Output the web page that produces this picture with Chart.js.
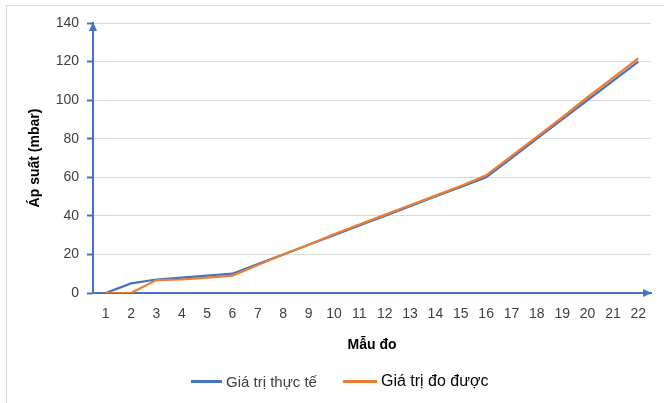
<!DOCTYPE html>
<html>
<head>
<meta charset="utf-8">
<script src="https://cdn.jsdelivr.net/npm/chart.js@4/dist/chart.umd.min.js"></script>
<style>
  html, body { margin: 0; padding: 0; background: #ffffff; }
  #wrap { position: relative; width: 664px; height: 403px; overflow: hidden; }
  #frame { position: absolute; left: 6px; top: 5px; width: 700px; height: 500px;
           border-left: 1px solid #d9d9d9; border-top: 1px solid #d9d9d9; pointer-events: none; }
  #legend { position: absolute; left: 0; top: 369px; width: 664px; height: 24px;
            font-family: "Liberation Sans", Arial, sans-serif; }
  .item { position: absolute; top: 0; height: 24px; display: flex; align-items: center; white-space: nowrap; }
  .swatch { display: inline-block; height: 3px; margin-right: 4px; }
</style>
</head>
<body>
<div id="wrap">
  <canvas id="c" width="664" height="403"></canvas>
  <div id="frame"></div>
  <div id="legend"></div>
</div>
<script>
const categories = ['1','2','3','4','5','6','7','8','9','10','11','12','13','14','15','16','17','18','19','20','21','22'];
const actualValues = [0, 5, 7, 8, 9, 10, 15, 20, 25, 30, 35, 40, 45, 50, 55, 60, 70, 80, 90, 100, 110, 120];
const measuredValues = [0, 0, 6.7, 7, 8, 9, 14.5, 20, 25, 30.5, 35.5, 40.5, 45.5, 50.5, 55.5, 61, 71, 81, 91, 101.5, 111.5, 121.7];
const seriesNames = ['Giá trị thực tế', 'Giá trị đo được'];
const yTicks = [0, 20, 40, 60, 80, 100, 120, 140];
const xTitle = 'Mẫu đo';
const yTitle = 'Áp suất (mbar)';

const BLUE = '#4472C4';
const ORANGE = '#ED7D31';

const arrowPlugin = {
  id: 'axisArrows',
  afterDraw(chart) {
    const ctx = chart.ctx;
    const a = chart.chartArea;
    ctx.save();
    ctx.fillStyle = BLUE;
    ctx.beginPath();
    ctx.moveTo(a.left, a.top - 1);
    ctx.lineTo(a.left - 4, a.top + 8);
    ctx.lineTo(a.left + 4, a.top + 8);
    ctx.closePath();
    ctx.fill();
    ctx.beginPath();
    ctx.moveTo(a.right + 1, a.bottom);
    ctx.lineTo(a.right - 8, a.bottom - 4);
    ctx.lineTo(a.right - 8, a.bottom + 4);
    ctx.closePath();
    ctx.fill();
    ctx.restore();
  }
};

new Chart(document.getElementById('c'), {
  type: 'line',
  data: {
    labels: categories,
    datasets: [
      { label: seriesNames[0], data: actualValues, borderColor: BLUE, backgroundColor: BLUE,
        borderWidth: 2.25, pointRadius: 0, tension: 0, order: 1 },
      { label: seriesNames[1], data: measuredValues, borderColor: ORANGE, backgroundColor: ORANGE,
        borderWidth: 2.25, pointRadius: 0, tension: 0, order: 0 }
    ]
  },
  options: {
    responsive: false,
    animation: false,
    devicePixelRatio: 1,
    layout: { padding: { left: 0, right: 13, top: 23, bottom: 0 } },
    plugins: { legend: { display: false }, tooltip: { enabled: false } },
    scales: {
      x: {
        type: 'category',
        offset: true,
        grid: { display: false, drawTicks: false },
        border: { display: true, color: BLUE, width: 2 },
        ticks: { color: '#404040', padding: 13, maxRotation: 0, autoSkip: false,
                 font: { family: '"Liberation Sans", Arial, sans-serif', size: 14 } },
        title: { display: true, text: xTitle, color: '#000000', padding: { top: 0, bottom: 49 },
                 font: { family: '"Liberation Sans", Arial, sans-serif', size: 14, weight: 'bold' } },
        afterFit(scale) { scale.height = 110; }
      },
      y: {
        min: 0, max: 140,
        afterBuildTicks(scale) { scale.ticks = yTicks.map(v => ({ value: v })); },
        grid: { color: '#d9d9d9', lineWidth: 1, drawTicks: true, tickLength: 6, tickColor: BLUE, tickWidth: 2 },
        border: { display: true, color: BLUE, width: 2 },
        ticks: { color: '#404040', padding: 8,
                 font: { family: '"Liberation Sans", Arial, sans-serif', size: 14 } },
        title: { display: true, text: yTitle, color: '#000000', padding: { top: 27, bottom: 0 },
                 font: { family: '"Liberation Sans", Arial, sans-serif', size: 14, weight: 'bold' } },
        afterFit(scale) { scale.width = 93; }
      }
    }
  },
  plugins: [arrowPlugin]
});

const legend = document.getElementById('legend');
const legendSpec = [
  { name: seriesNames[0], color: BLUE, left: 191, swatch: 31, size: 15, text: '#404040' },
  { name: seriesNames[1], color: ORANGE, left: 343, swatch: 34, size: 16, text: '#000000' }
];
legendSpec.forEach(s => {
  const it = document.createElement('div');
  it.className = 'item';
  it.style.left = s.left + 'px';
  const sw = document.createElement('span');
  sw.className = 'swatch';
  sw.style.width = s.swatch + 'px';
  sw.style.background = s.color;
  const tx = document.createElement('span');
  tx.textContent = s.name;
  tx.style.fontSize = s.size + 'px';
  tx.style.color = s.text;
  it.appendChild(sw);
  it.appendChild(tx);
  legend.appendChild(it);
});
</script>
</body>
</html>
